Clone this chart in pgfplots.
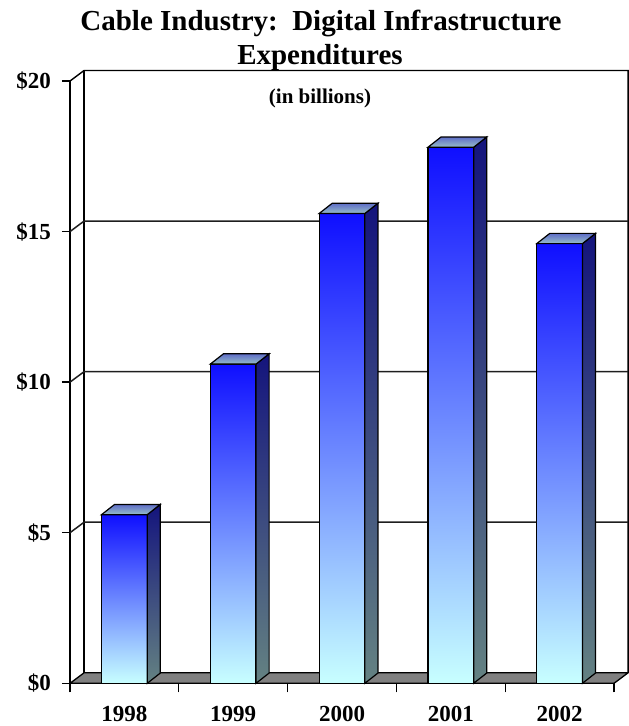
\documentclass[border=0pt]{standalone}
\usepackage{fontspec}
\setmainfont{Liberation Serif}
\usepackage{pgfplots}
\pgfplotsset{compat=1.18}
\definecolor{bTop}{RGB}{15,15,255}
\definecolor{bMid}{RGB}{160,198,255}
\definecolor{bBot}{RGB}{200,255,255}
\definecolor{sTop}{RGB}{20,20,125}
\definecolor{sBot}{RGB}{100,130,130}
\definecolor{tFront}{RGB}{150,190,200}
\definecolor{tBack}{RGB}{95,110,200}
\definecolor{floorgray}{RGB}{128,128,128}
\definecolor{gridc}{RGB}{30,30,30}
\begin{document}
\begin{tikzpicture}[x=1pt,y=1pt]
\begin{axis}[
  at={(70pt,42.7pt)}, anchor=south west,
  scale only axis, width=544pt, height=602.3pt,
  xmin=0, xmax=5, ymin=0, ymax=20, clip=false,
  axis x line*=bottom, axis y line*=left,
  axis line style={-, line width=1.5pt, black},
  ytick={0,5,10,15,20}, yticklabels={\$0,\$5,\$10,\$15,\$20},
  xtick={0.5,1.5,2.5,3.5,4.5}, xticklabels={1998,1999,2000,2001,2002},
  minor xtick={0,1,2,3,4,5},
  tick align=outside, major tick length=8pt, minor tick length=9pt,
  every tick/.style={black, line width=1.3pt},
  major x tick style={draw=none},
  ticklabel style={font=\bfseries\fontsize{23pt}{23pt}\selectfont},
  xticklabel style={anchor=north, inner sep=0pt, yshift=-15pt},
  yticklabel style={anchor=east, inner sep=0pt, xshift=-11pt},
]
% back wall edges
\addplot[black, line width=1.4pt] coordinates {(0,20) (0.13,20.35) (5.13,20.35) (5.13,0.35)};
\addplot[black, line width=1.4pt] coordinates {(0.13,0.35) (0.13,20.35)};
% gridlines
\addplot[gridc, line width=1.5pt] coordinates {(0,5) (0.13,5.35) (5.13,5.35)};
\addplot[gridc, line width=1.5pt] coordinates {(0,10) (0.13,10.35) (5.13,10.35)};
\addplot[gridc, line width=1.5pt] coordinates {(0,15) (0.13,15.35) (5.13,15.35)};
% floor
\addplot[fill=floorgray, draw=black, line width=1.3pt] coordinates {(0,0) (5,0) (5.13,0.35) (0.13,0.35)} -- cycle;
% 1998: 5.6
\addplot[ybar, bar width=0.42, bar shift=0pt, draw=black, line width=1.2pt, top color=bTop, middle color=bMid, bottom color=bBot] coordinates {(0.5,5.6)};
\addplot[draw=black, line width=1.2pt, top color=sTop, bottom color=sBot] coordinates {(0.71,0) (0.83,0.34) (0.83,5.94) (0.71,5.6)} -- cycle;
\addplot[draw=black, line width=1.2pt, top color=tBack, bottom color=tFront] coordinates {(0.29,5.6) (0.71,5.6) (0.83,5.94) (0.41,5.94)} -- cycle;
% 1999: 10.6
\addplot[ybar, bar width=0.42, bar shift=0pt, draw=black, line width=1.2pt, top color=bTop, middle color=bMid, bottom color=bBot] coordinates {(1.5,10.6)};
\addplot[draw=black, line width=1.2pt, top color=sTop, bottom color=sBot] coordinates {(1.71,0) (1.83,0.34) (1.83,10.94) (1.71,10.6)} -- cycle;
\addplot[draw=black, line width=1.2pt, top color=tBack, bottom color=tFront] coordinates {(1.29,10.6) (1.71,10.6) (1.83,10.94) (1.41,10.94)} -- cycle;
% 2000: 15.6
\addplot[ybar, bar width=0.42, bar shift=0pt, draw=black, line width=1.2pt, top color=bTop, middle color=bMid, bottom color=bBot] coordinates {(2.5,15.6)};
\addplot[draw=black, line width=1.2pt, top color=sTop, bottom color=sBot] coordinates {(2.71,0) (2.83,0.34) (2.83,15.94) (2.71,15.6)} -- cycle;
\addplot[draw=black, line width=1.2pt, top color=tBack, bottom color=tFront] coordinates {(2.29,15.6) (2.71,15.6) (2.83,15.94) (2.41,15.94)} -- cycle;
% 2001: 17.8
\addplot[ybar, bar width=0.42, bar shift=0pt, draw=black, line width=1.2pt, top color=bTop, middle color=bMid, bottom color=bBot] coordinates {(3.5,17.8)};
\addplot[draw=black, line width=1.2pt, top color=sTop, bottom color=sBot] coordinates {(3.71,0) (3.83,0.34) (3.83,18.14) (3.71,17.8)} -- cycle;
\addplot[draw=black, line width=1.2pt, top color=tBack, bottom color=tFront] coordinates {(3.29,17.8) (3.71,17.8) (3.83,18.14) (3.41,18.14)} -- cycle;
% 2002: 14.6
\addplot[ybar, bar width=0.42, bar shift=0pt, draw=black, line width=1.2pt, top color=bTop, middle color=bMid, bottom color=bBot] coordinates {(4.5,14.6)};
\addplot[draw=black, line width=1.2pt, top color=sTop, bottom color=sBot] coordinates {(4.71,0) (4.83,0.34) (4.83,14.94) (4.71,14.6)} -- cycle;
\addplot[draw=black, line width=1.2pt, top color=tBack, bottom color=tFront] coordinates {(4.29,14.6) (4.71,14.6) (4.83,14.94) (4.41,14.94)} -- cycle;
\end{axis}
\node[anchor=base, font=\bfseries\fontsize{29pt}{34pt}\selectfont] at (321pt,695.3pt) {Cable Industry:\ \ Digital Infrastructure};
\node[anchor=base, font=\bfseries\fontsize{29pt}{34pt}\selectfont] at (320pt,661pt) {Expenditures};
\node[anchor=base, font=\bfseries\fontsize{21pt}{24pt}\selectfont] at (320pt,622pt) {(in billions)};
\pgfresetboundingbox
\path[use as bounding box] (0,0) rectangle (629pt,726pt);
\end{tikzpicture}
\end{document}
